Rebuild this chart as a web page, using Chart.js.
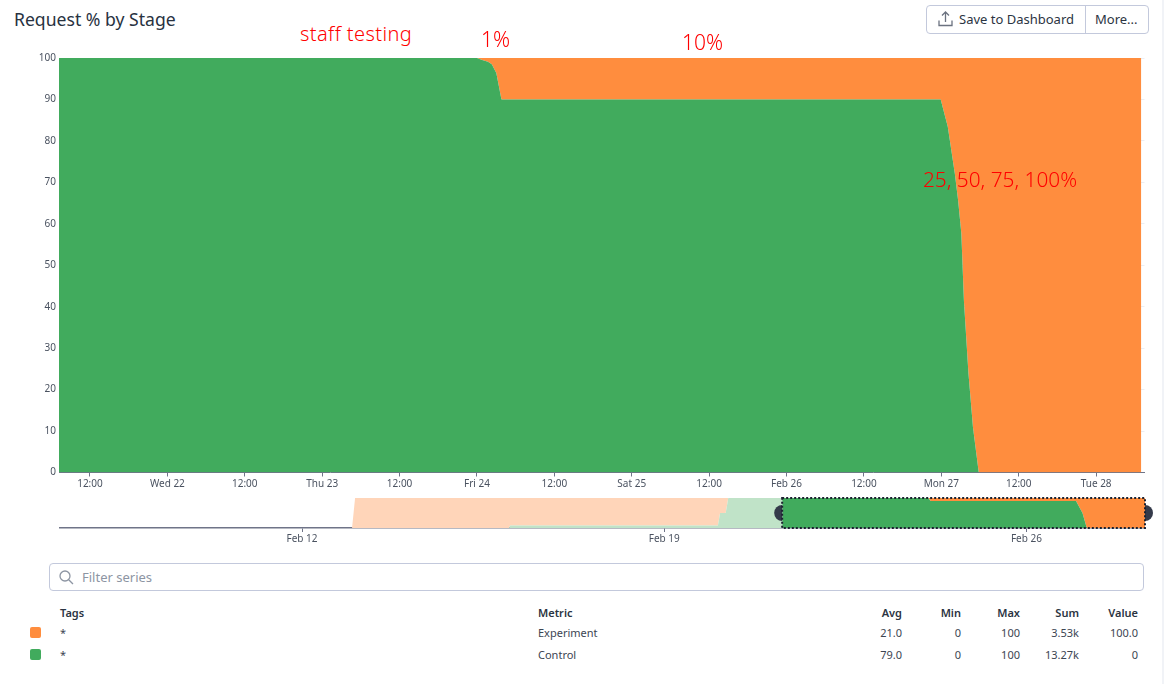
<!DOCTYPE html>
<html>
<head>
<meta charset="utf-8">
<title>Request % by Stage</title>
<script src="https://cdn.jsdelivr.net/npm/chart.js@4"></script>
<style>
    html, body { margin: 0; padding: 0; background: #fff; }
    body { width: 1164px; height: 684px; position: relative; overflow: hidden; font-family: "Noto Sans", sans-serif; color: #2b3442; }
    canvas { position: absolute; left: 0; }
    .abs { position: absolute; white-space: nowrap; }
    .note { color: #ff0000; font-size: 20px; line-height: 24px; font-weight: 300; }
    .cell { font-size: 11px; line-height: 14px; color: #3c4552; }
    .head { font-weight: 600; color: #2b3442; }
    .right { text-align: right; width: 60px; }
</style>
</head>
<body>
<div class="abs" style="left:14px;top:6px;font-size:17.6px;line-height:26px;color:#28323f;">Request % by Stage</div>

<div class="abs" style="left:926px;top:5px;width:221px;height:27px;border:1px solid #c3c9dc;border-radius:4px;"></div>
<div class="abs" style="left:1085px;top:6px;width:1px;height:27px;background:#c3c9dc;"></div>
<svg class="abs" style="left:938px;top:11px;" width="15" height="16" viewBox="0 0 15 16" fill="none" stroke="#6b7280" stroke-width="1.3">
    <path d="M7.5 11V1.5M4 4.5l3.5-3.5 3.5 3.5M1 9.5V14.5H14V9.5"/>
</svg>
<div class="abs" style="left:959px;top:10px;font-size:13px;line-height:18px;">Save to Dashboard</div>
<div class="abs" style="left:1095px;top:10px;font-size:13px;line-height:18px;">More...</div>
<div class="abs" style="left:1162px;top:0;width:2px;height:684px;background:#f1f3f7;"></div>

<canvas id="mainChart" width="1164" height="443" style="top:49px;width:1164px;height:443px;"></canvas>
<canvas id="overviewChart" width="1164" height="60" style="top:490px;width:1164px;height:60px;"></canvas>

<div class="abs note" style="left:300px;top:22px;letter-spacing:0.4px;">staff testing</div>
<div class="abs note" style="left:481px;top:27px;font-size:21px;">1%</div>
<div class="abs note" style="left:682px;top:30px;font-size:21px;">10%</div>
<div class="abs note" style="left:923px;top:167px;font-size:20.8px;">25, 50, 75, 100%</div>

<div class="abs" style="left:49px;top:563px;width:1093px;height:26px;border:1px solid #c3c9dc;border-radius:4px;"></div>
<svg class="abs" style="left:59px;top:570px;" width="15" height="15" viewBox="0 0 15 15" fill="none" stroke="#8d95a3" stroke-width="1.3">
    <circle cx="6" cy="6" r="5"/><path d="M9.7 9.7L14 14"/>
</svg>
<div class="abs" style="left:82px;top:568px;font-size:13px;line-height:18px;color:#8d95a3;">Filter series</div>

<div id="legendTable"></div>

<script>
// ============================================================
// DATA
// ============================================================
const stageNames = ["Experiment", "Control"];
const stageTags = ["*", "*"];
const avgValues = ["21.0", "79.0"];
const minValues = ["0", "0"];
const maxValues = ["100", "100"];
const sumValues = ["3.53k", "13.27k"];
const lastValues = ["100.0", "0"];

// main chart, hours since Feb 21 00:00
const mainHours = [7.2, 71.4, 72, 72.8, 73.7, 74.3, 75, 75.8, 143.9, 145, 146.1, 146.6, 147.1, 147.5, 148.2, 148.9, 149.8, 175];
const mainControl = [100, 100, 100, 99.5, 99.1, 98.5, 96.4, 90, 90, 83.4, 72, 65.7, 57.7, 41.5, 24, 11, 0, 0];
const mainExperiment = [0, 0, 0, 0.5, 0.9, 1.5, 3.6, 10, 10, 16.6, 28, 34.3, 42.3, 58.5, 76, 89, 100, 100];
const mainTickHours = [12, 24, 36, 48, 60, 72, 84, 96, 108, 120, 132, 144, 156, 168];
const mainTickLabels = ["12:00", "Wed 22", "12:00", "Thu 23", "12:00", "Fri 24", "12:00", "Sat 25", "12:00", "Feb 26", "12:00", "Mon 27", "12:00", "Tue 28"];
const yTicks = [0, 10, 20, 30, 40, 50, 60, 70, 80, 90, 100];

// overview chart, hours since Feb 12 00:00
const overviewHours = [-112, 23.2, 24.6, 96, 96.5, 192.9, 193.9, 196.5, 197.7, 222.7, 290.5, 291.5, 359, 362, 364, 391];
const overviewControl = [0, 0, 0, 0, 8, 8, 50, 50, 100, 100, 100, 90, 90, 50, 0, 0];
const overviewExperiment = [0, 0, 100, 100, 92, 92, 50, 50, 0, 0, 0, 10, 10, 50, 100, 100];
const overviewTickHours = [0, 168, 336];
const overviewTickLabels = ["Feb 12", "Feb 19", "Feb 26"];
const brushStart = 222.7;
const brushEnd = 391;

const ORANGE = "#ff8d3e";
const GREEN = "#41ab5d";
const ORANGE_FADED = "#ffd5b9";
const GREEN_FADED = "#c0e3c8";
const AXIS_COLOR = "#6f7488";
const TICK_COLOR = "#4a5260";

Chart.defaults.font.family = '"Noto Sans", sans-serif';
Chart.defaults.font.size = 10;
Chart.defaults.color = TICK_COLOR;
Chart.defaults.animation = false;

function toPoints(xs, ys) {
    return xs.map((x, i) => ({ x: x, y: ys[i] }));
}

// ============================================================
// Main stacked area chart
// ============================================================
new Chart(document.getElementById("mainChart"), {
    type: "line",
    data: {
        datasets: [
            {
                label: stageNames[1],
                data: toPoints(mainHours, mainControl),
                backgroundColor: GREEN,
                borderWidth: 0,
                pointRadius: 0,
                fill: "origin"
            },
            {
                label: stageNames[0],
                data: toPoints(mainHours, mainExperiment),
                backgroundColor: ORANGE,
                borderWidth: 0,
                pointRadius: 0,
                fill: "-1"
            }
        ]
    },
    options: {
        responsive: false,
        layout: { padding: { top: 6, right: 19.5 } },
        plugins: { legend: { display: false }, tooltip: { enabled: false } },
        scales: {
            x: {
                type: "linear",
                min: 7.2,
                max: 175.5,
                afterFit: (s) => { s.height = 19.5; },
                afterBuildTicks: (s) => { s.ticks = mainTickHours.map(v => ({ value: v })); },
                ticks: {
                    autoSkip: false,
                    maxRotation: 0,
                    padding: 2,
                    callback: (v) => mainTickLabels[mainTickHours.indexOf(v)]
                },
                grid: { drawOnChartArea: false, color: AXIS_COLOR, tickLength: 4 },
                border: { color: AXIS_COLOR }
            },
            y: {
                stacked: true,
                min: 0,
                max: 100,
                afterFit: (s) => { s.width = 59; },
                afterBuildTicks: (s) => { s.ticks = yTicks.map(v => ({ value: v })); },
                ticks: { padding: 3 },
                grid: { color: "#eceef3", tickLength: 0 },
                border: { display: false }
            }
        }
    }
});

// ============================================================
// Overview strip with the brush
// ============================================================
const brushPlugin = {
    id: "brush",
    afterDraw(chart) {
        const { ctx, scales, chartArea } = chart;
        const left = scales.x.getPixelForValue(brushStart);
        const right = scales.x.getPixelForValue(brushEnd);
        const mid = (chartArea.top + chartArea.bottom) / 2;

        ctx.save();
        ctx.fillStyle = "#343a4a";
        ctx.beginPath();
        ctx.arc(left, mid, 8, Math.PI / 2, Math.PI * 1.5);
        ctx.fill();
        ctx.beginPath();
        ctx.arc(right, mid, 8, -Math.PI / 2, Math.PI / 2);
        ctx.fill();

        ctx.strokeStyle = "#1c2230";
        ctx.lineWidth = 2;
        ctx.setLineDash([2, 2]);
        ctx.strokeRect(left, chartArea.top, right - left, chartArea.bottom - chartArea.top);
        ctx.restore();
    }
};

function brushSegment(faded) {
    return {
        backgroundColor: (c) => (c.p0.parsed.x < brushStart ? faded : undefined)
    };
}

new Chart(document.getElementById("overviewChart"), {
    type: "line",
    data: {
        datasets: [
            {
                data: toPoints(overviewHours, overviewControl),
                backgroundColor: GREEN,
                borderWidth: 0,
                pointRadius: 0,
                fill: "origin",
                segment: brushSegment(GREEN_FADED)
            },
            {
                data: toPoints(overviewHours, overviewExperiment),
                backgroundColor: ORANGE,
                borderWidth: 0,
                pointRadius: 0,
                fill: "-1",
                segment: brushSegment(ORANGE_FADED)
            }
        ]
    },
    plugins: [brushPlugin],
    options: {
        responsive: false,
        layout: { padding: { top: 8, right: 19 } },
        plugins: { legend: { display: false }, tooltip: { enabled: false } },
        scales: {
            x: {
                type: "linear",
                min: -112.5,
                max: 391,
                afterFit: (s) => { s.height = 22; },
                afterBuildTicks: (s) => { s.ticks = overviewTickHours.map(v => ({ value: v })); },
                ticks: {
                    autoSkip: false,
                    maxRotation: 0,
                    padding: 1,
                    callback: (v) => overviewTickLabels[overviewTickHours.indexOf(v)]
                },
                grid: { drawOnChartArea: false, color: AXIS_COLOR, tickLength: 4 },
                border: { color: AXIS_COLOR, width: 1.5 }
            },
            y: {
                stacked: true,
                min: 0,
                max: 100,
                display: true,
                afterFit: (s) => { s.width = 59.5; },
                ticks: { display: false },
                grid: { display: false },
                border: { display: false }
            }
        }
    }
});

// ============================================================
// Legend table
// ============================================================
const table = document.getElementById("legendTable");

function addCell(text, left, top, cls) {
    const el = document.createElement("div");
    el.className = "abs cell " + cls;
    el.style.left = left + "px";
    el.style.top = top + "px";
    el.textContent = text;
    table.appendChild(el);
}

const columnRights = [842, 901, 960, 1019, 1078];
["Avg", "Min", "Max", "Sum", "Value"].forEach((h, i) => addCell(h, columnRights[i], 606, "head right"));
addCell("Tags", 60, 606, "head");
addCell("Metric", 538, 606, "head");

stageNames.forEach((name, i) => {
    const top = 626 + i * 22;
    const swatch = document.createElement("div");
    swatch.className = "abs";
    swatch.style.cssText = `left:30px;top:${top + 1}px;width:11px;height:11px;border-radius:2px;background:${i === 0 ? ORANGE : GREEN};`;
    table.appendChild(swatch);
    addCell(stageTags[i], 60, top, "");
    addCell(name, 538, top, "");
    [avgValues, minValues, maxValues, sumValues, lastValues].forEach((col, c) => {
        addCell(col[i], columnRights[c], top, "right");
    });
});
</script>
</body>
</html>
